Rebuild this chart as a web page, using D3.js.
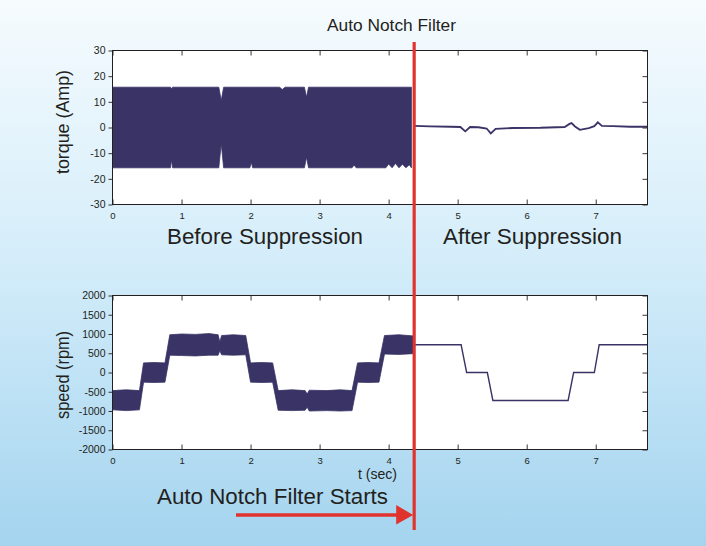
<!DOCTYPE html>
<html><head><meta charset="utf-8">
<script src="https://cdn.jsdelivr.net/npm/d3@7"></script>
<style>body{margin:0;background:#fff;} svg{display:block;font-family:"Liberation Sans",Arial,Helvetica,sans-serif;}</style>
</head><body><svg id="c" width="706" height="546"></svg>
<script>
// ---------- data ----------
const timeTicks = [0, 1, 2, 3, 4, 5, 6, 7];
const torqueTicks = [30, 20, 10, 0, -10, -20, -30];
const speedTicks = [2000, 1500, 1000, 500, 0, -500, -1000, -1500, -2000];
const filterStartTime = 4.37;

// torque before suppression: envelope of the oscillation (sec, Amp)
const torqueBandT  = [0.00, 0.84, 0.855, 0.87, 1.54, 1.575, 1.61, 1.99, 2.01, 2.03, 2.42, 2.46, 2.50, 2.78, 2.81, 2.84, 3.47, 3.50, 3.53, 3.96, 4.00, 4.05, 4.10, 4.15, 4.20, 4.25, 4.30, 4.33];
const torqueBandHi = [15.7, 15.7, 15.0, 15.7, 15.7, 10.5, 15.7, 15.7, 15.7, 15.7, 15.7, 14.8, 15.7, 15.7, 11.8, 15.7, 15.7, 15.7, 15.7, 15.7, 15.7, 15.7, 15.7, 15.7, 15.7, 15.7, 15.7, 15.7];
const torqueBandLo = [-15.7, -15.7, -12.5, -15.7, -15.7, -6.3, -15.7, -15.7, -13.5, -15.7, -15.7, -15.7, -15.7, -15.7, -11.6, -15.7, -15.7, -14.6, -15.7, -15.7, -14.2, -15.7, -14.0, -15.7, -14.3, -15.7, -14.5, -15.7];

// torque after suppression
const torqueAfterT = [4.37, 4.60, 4.90, 5.04, 5.11, 5.18, 5.30, 5.42, 5.48, 5.55, 5.80, 6.20, 6.55, 6.62, 6.65, 6.70, 6.77, 6.90, 6.98, 7.03, 7.09, 7.25, 7.50, 7.75];
const torqueAfterV = [0.6, 0.4, 0.3, 0.2, -1.5, 0.2, 0.1, -0.4, -2.3, -0.5, -0.2, -0.1, 0.2, 1.4, 1.7, 0.4, -0.9, -0.2, 0.5, 2.0, 0.6, 0.5, 0.3, 0.3];

// speed before suppression: envelope of the oscillation (sec, rpm)
const speedBandT  = [0.00, 0.20, 0.39, 0.45, 0.60, 0.76, 0.83, 1.00, 1.20, 1.40, 1.53, 1.555, 1.58, 1.75, 1.93, 2.00, 2.16, 2.32, 2.40, 2.60, 2.79, 2.82, 2.85, 3.10, 3.30, 3.47, 3.55, 3.70, 3.86, 3.94, 4.15, 4.36];
const speedBandHi = [-470, -450, -470, 250, 260, 250, 980, 1000, 990, 1010, 980, 790, 960, 980, 960, 250, 260, 250, -470, -450, -470, -560, -460, -470, -450, -470, 250, 260, 250, 960, 980, 950];
const speedBandLo = [-970, -990, -970, -250, -260, -250, 450, 440, 430, 450, 450, 570, 460, 450, 460, -250, -260, -250, -980, -990, -980, -900, -1000, -990, -1000, -990, -250, -260, -250, 480, 470, 490];

// speed after suppression
const speedAfterT = [4.37, 5.05, 5.13, 5.43, 5.51, 6.60, 6.68, 6.98, 7.05, 7.75];
const speedAfterV = [720, 720, 0, 0, -727, -727, 0, 0, 720, 720];

// ---------- drawing ----------
const svg = d3.select('#c');
const W = 706, H = 546;
const ink = '#231f20', navy = '#393366', red = '#e1332e';

const defs = svg.append('defs');
const grad = defs.append('linearGradient').attr('id', 'bg').attr('x1', 0).attr('y1', 0).attr('x2', 0).attr('y2', 1);
grad.append('stop').attr('offset', '0%').attr('stop-color', '#f6fbfe');
grad.append('stop').attr('offset', '45%').attr('stop-color', '#d6eefa');
grad.append('stop').attr('offset', '100%').attr('stop-color', '#a4d4ef');
svg.append('rect').attr('width', W).attr('height', H).attr('fill', 'url(#bg)');

const x = d3.scaleLinear().domain([0, 7.75]).range([112.5, 647.5]);

function panel(id, top, bottom, domain, yTicks, label, labelCenter, labelLen, band, after, afterWidth) {
  const y = d3.scaleLinear().domain(domain).range([bottom, top]);
  const g = svg.append('g');
  defs.append('clipPath').attr('id', 'clip' + id).append('rect')
    .attr('x', x.range()[0]).attr('y', top).attr('width', x.range()[1] - x.range()[0]).attr('height', bottom - top);
  g.append('rect').attr('x', x.range()[0]).attr('y', top)
    .attr('width', x.range()[1] - x.range()[0]).attr('height', bottom - top).attr('fill', '#fff');

  const pg = g.append('g').attr('clip-path', 'url(#clip' + id + ')');
  const bandData = band.t.map((t, i) => ({t, hi: band.hi[i], lo: band.lo[i]}));
  pg.append('path').datum(bandData)
    .attr('d', d3.area().x(d => x(d.t)).y0(d => y(d.lo)).y1(d => y(d.hi)))
    .attr('fill', navy).attr('stroke', navy).attr('stroke-width', 0.8);
  const afterData = after.t.map((t, i) => ({t, v: after.v[i]}));
  pg.append('path').datum(afterData)
    .attr('d', d3.line().x(d => x(d.t)).y(d => y(d.v)))
    .attr('fill', 'none').attr('stroke', navy).attr('stroke-width', afterWidth);

  // axes
  const ax = g.append('g').attr('fill', ink);
  const yAx = d3.axisLeft(y).tickValues(yTicks).tickSize(4).tickPadding(3).tickFormat(d => String(d));
  const yG = ax.append('g').attr('transform', `translate(${x.range()[0]},0)`).call(yAx);
  const yAxR = d3.axisLeft(y).tickValues(yTicks).tickSize(5).tickFormat('');
  const yGR = ax.append('g').attr('transform', `translate(${x.range()[1]},0)`).call(yAxR);
  const xAx = d3.axisBottom(x).tickValues(timeTicks).tickSize(-5).tickPadding(8).tickFormat(d3.format('d'));
  const xG = ax.append('g').attr('transform', `translate(0,${bottom})`).call(xAx);
  const xAxT = d3.axisTop(x).tickValues(timeTicks).tickSize(-5).tickFormat('');
  const xGT = ax.append('g').attr('transform', `translate(0,${top})`).call(xAxT);
  [yG, yGR, xG, xGT].forEach(s => {
    s.select('.domain').remove();
    s.selectAll('line').attr('stroke', ink).attr('stroke-width', 0.9);
    s.selectAll('text').attr('fill', ink).attr('font-family', '"Liberation Sans",Arial,sans-serif');
  });
  xG.selectAll('text').attr('font-size', 9.5);
  yG.selectAll('text').attr('font-size', 10.5);
  g.append('rect').attr('x', x.range()[0]).attr('y', top)
    .attr('width', x.range()[1] - x.range()[0]).attr('height', bottom - top)
    .attr('fill', 'none').attr('stroke', ink).attr('stroke-width', 1);

  g.append('text').attr('transform', `translate(69,${labelCenter}) rotate(-90)`)
    .attr('text-anchor', 'middle').attr('font-size', 18).attr('fill', ink)
    .attr('textLength', labelLen).attr('lengthAdjust', 'spacingAndGlyphs').text(label);
  return y;
}

panel('t', 50.5, 204.5, [-30, 30], torqueTicks, 'torque (Amp)', 122, 104,
  {t: torqueBandT, hi: torqueBandHi, lo: torqueBandLo},
  {t: torqueAfterT, v: torqueAfterV}, 1.8);
panel('s', 295.5, 449.5, [-2000, 2000], speedTicks, 'speed (rpm)', 375, 88,
  {t: speedBandT, hi: speedBandHi, lo: speedBandLo},
  {t: speedAfterT, v: speedAfterV}, 1.4);

// annotations
function label(txt, xx, yy, size, len, anchor) {
  svg.append('text').attr('x', xx).attr('y', yy).attr('text-anchor', anchor || 'middle')
    .attr('font-size', size).attr('fill', ink)
    .attr('textLength', len).attr('lengthAdjust', 'spacingAndGlyphs').text(txt);
}
label('Auto Notch Filter', 391.5, 31, 17, 129);
label('Before Suppression', 265, 244, 22, 196);
label('After Suppression', 532.5, 244, 22, 179);
label('t (sec)', 377.5, 479, 14, 39);
label('Auto Notch Filter Starts', 157, 504, 22, 231, 'start');

const fx = x(filterStartTime);
svg.append('line').attr('x1', fx).attr('x2', fx).attr('y1', 42).attr('y2', 530)
  .attr('stroke', red).attr('stroke-width', 3.2);
svg.append('line').attr('x1', 236).attr('x2', fx - 16).attr('y1', 515).attr('y2', 515)
  .attr('stroke', red).attr('stroke-width', 3.5);
svg.append('path').attr('d', `M${fx - 18},505 L${fx - 1},515 L${fx - 18},524.5 Z`).attr('fill', red);
</script></body></html>
